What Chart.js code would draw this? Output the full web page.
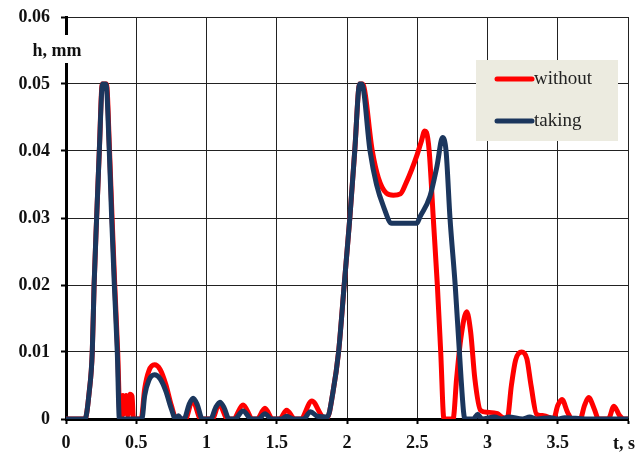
<!DOCTYPE html>
<html lang="en">
<head>
  <meta charset="UTF-8">
  <title>h(t) without / taking</title>
  <style>
    html, body { margin: 0; padding: 0; background: #fff; }
    #wrap { width: 636px; height: 452px; }
  </style>
  <script src="https://cdn.jsdelivr.net/npm/chart.js"></script>
</head>
<body>
  <div id="wrap"><canvas id="chart" width="636" height="452"></canvas></div>
  <script>
    // series: time in s, h in mm
    const seriesNames = ['without', 'taking'];
    const seriesColors = ['#ff0000', '#1b365d'];

    const tWithout = [0, 0.135, 0.165, 0.187, 0.2, 0.218, 0.237, 0.258, 0.288, 0.31, 0.328, 0.347, 0.368, 0.385,
      0.395, 0.405, 0.415, 0.428, 0.44, 0.455, 0.47, 0.48, 0.535,
      0.56, 0.59, 0.63, 0.67, 0.71, 0.75, 0.785,
      0.85, 0.9, 0.96,
      1.04, 1.09, 1.15,
      1.19, 1.26, 1.33,
      1.36, 1.416, 1.47,
      1.52, 1.57, 1.63,
      1.67, 1.75, 1.83, 1.86,
      1.9, 1.94, 1.98, 2.02, 2.055, 2.09, 2.11, 2.18, 2.223, 2.28, 2.33, 2.38, 2.42, 2.46, 2.5, 2.53, 2.553, 2.565, 2.585, 2.614, 2.643, 2.667, 2.69, 2.755,
      2.78, 2.81, 2.852, 2.88, 2.91, 2.95, 3.0, 3.07, 3.1, 3.14,
      3.17, 3.2, 3.243, 3.28, 3.31, 3.35, 3.4, 3.47,
      3.5, 3.53, 3.57, 3.6, 3.66, 3.69, 3.72, 3.76, 3.79, 3.86, 3.9, 3.94, 3.97, 4.0];
    const hWithout = [0, 0, 0.004, 0.01, 0.02, 0.03, 0.04, 0.05, 0.05, 0.04, 0.03, 0.02, 0.01, 0,
      0, 0.0035, 0.0008, 0.0035, 0.0005, 0.0037, 0.0034, 0, 0,
      0.0045, 0.0072, 0.0081, 0.0074, 0.0052, 0.002, 0,
      0, 0.0028, 0,
      0, 0.0022, 0,
      0, 0.0021, 0,
      0, 0.0016, 0,
      0, 0.0013, 0,
      0, 0.0027, 0.0003, 0.0002,
      0.004, 0.01, 0.02, 0.03, 0.04, 0.05, 0.05, 0.04, 0.036, 0.0337, 0.0334, 0.0336, 0.0352, 0.0372, 0.0395, 0.0415, 0.043, 0.0428, 0.04, 0.03, 0.02, 0.01, 0, 0,
      0.006, 0.012, 0.016, 0.013, 0.006, 0.0013, 0.001, 0.0008, 0.0003, 0,
      0.005, 0.0088, 0.01, 0.009, 0.005, 0.0007, 0.0005, 0,
      0.002, 0.0029, 0.001, 0, 0, 0.002, 0.0032, 0.0015, 0, 0, 0.0019, 0.0005, 0, 0];

    const tTaking = [0, 0.135, 0.165, 0.187, 0.2, 0.218, 0.237, 0.26, 0.285, 0.308, 0.325, 0.344, 0.365, 0.38,
      0.54, 0.56, 0.59, 0.63, 0.67, 0.71, 0.75, 0.78,
      0.80, 0.82, 0.84, 0.875, 0.905, 0.935, 0.97,
      1.03, 1.065, 1.096, 1.125, 1.16,
      1.2, 1.26, 1.32,
      1.37, 1.416, 1.46,
      1.53, 1.57, 1.62,
      1.69, 1.74, 1.79, 1.86,
      1.9, 1.94, 1.98, 2.02, 2.055, 2.09, 2.105, 2.164, 2.21, 2.26, 2.318, 2.496, 2.52, 2.59, 2.64, 2.68, 2.705, 2.733, 2.77, 2.8, 2.83, 2.84,
      2.9, 2.93, 2.96, 3.05, 3.1, 3.15, 3.25, 3.3, 3.35, 3.45, 3.5, 3.55, 3.7, 4.0];
    const hTaking = [0, 0, 0.004, 0.01, 0.02, 0.03, 0.04, 0.05, 0.05, 0.04, 0.03, 0.02, 0.01, 0,
      0, 0.0035, 0.0058, 0.0066, 0.006, 0.0042, 0.0015, 0,
      0.0005, 0, 0, 0.0021, 0.0031, 0.0021, 0,
      0, 0.0017, 0.0025, 0.0017, 0,
      0, 0.0012, 0,
      0, 0.0008, 0,
      0, 0.0004, 0,
      0, 0.0011, 0.0004, 0.0003,
      0.004, 0.01, 0.02, 0.03, 0.04, 0.05, 0.05, 0.04, 0.035, 0.0317, 0.0292, 0.0292, 0.0302, 0.0332, 0.0377, 0.042, 0.04, 0.03, 0.02, 0.01, 0.001, 0,
      0, 0.0007, 0, 0.0003, 0, 0.0003, 0, 0.0003, 0, 0.0002, 0, 0.0002, 0, 0];

    const serif = "'Liberation Serif', 'Times New Roman', serif";

    const toPoints = (ts, hs) => ts.map((t, i) => ({ x: t, y: hs[i] }));

    // legend box + axis captions drawn by hand (legend sits inside the plot)
    const extras = {
      id: 'extras',
      afterDraw(chart) {
        const ctx = chart.ctx;
        ctx.save();

        // y caption, breaks the axis line
        ctx.fillStyle = '#fff';
        ctx.fillRect(28, 35, 58, 28);
        ctx.fillStyle = '#111';
        ctx.font = 'bold 18px ' + serif;
        ctx.textAlign = 'center';
        ctx.textBaseline = 'middle';
        ctx.fillText('h, mm', 57, 51);

        // x caption in place of the last tick label
        ctx.textAlign = 'right';
        ctx.fillText('t, s', 635, 444);

        // legend
        ctx.fillStyle = '#ecebe0';
        ctx.fillRect(476, 60, 142, 81);
        ctx.font = '19px ' + serif;
        ctx.textAlign = 'left';
        chart.data.datasets.forEach((ds, i) => {
          const y = 79 + i * 42;
          ctx.strokeStyle = ds.borderColor;
          ctx.lineWidth = 5;
          ctx.lineCap = 'round';
          ctx.beginPath();
          ctx.moveTo(497, y);
          ctx.lineTo(532, y);
          ctx.stroke();
          ctx.fillStyle = '#222';
          ctx.fillText(ds.label, 534, y);
        });
        ctx.restore();
      }
    };

    new Chart(document.getElementById('chart'), {
      type: 'line',
      data: {
        datasets: [
          { label: seriesNames[0], data: toPoints(tWithout, hWithout), borderColor: seriesColors[0], order: 1 },
          { label: seriesNames[1], data: toPoints(tTaking, hTaking), borderColor: seriesColors[1], order: 0 }
        ]
      },
      options: {
        responsive: false,
        animation: false,
        layout: { padding: { left: 0, right: 8, top: 17, bottom: 0 } },
        elements: {
          point: { radius: 0 },
          line: { borderWidth: 5, cubicInterpolationMode: 'monotone', borderJoinStyle: 'round', borderCapStyle: 'round', fill: false }
        },
        plugins: { legend: { display: false }, tooltip: { enabled: false } },
        scales: {
          x: {
            type: 'linear', min: 0, max: 4,
            afterFit: s => { s.height = 33; s.paddingRight = 0; },
            grid: { color: '#222', lineWidth: 1, tickLength: 5, tickColor: '#000', tickWidth: 2 },
            border: { color: '#000', width: 3 },
            ticks: {
              stepSize: 0.5, padding: 9, color: '#111', maxRotation: 0,
              font: { family: serif, size: 18, weight: 'bold' },
              callback: v => v === 4 ? '' : String(v)
            }
          },
          y: {
            min: 0, max: 0.06,
            afterFit: s => { s.width = 66; s.paddingTop = 0; s.paddingBottom = 0; },
            grid: { color: '#222', lineWidth: 1, tickLength: 5, tickColor: '#000', tickWidth: 2 },
            border: { color: '#000', width: 3 },
            ticks: {
              stepSize: 0.01, padding: 11, color: '#111',
              font: { family: serif, size: 18, weight: 'bold' },
              callback: v => v === 0 ? '0' : v.toFixed(2)
            }
          }
        }
      },
      plugins: [extras]
    });
  </script>
</body>
</html>
